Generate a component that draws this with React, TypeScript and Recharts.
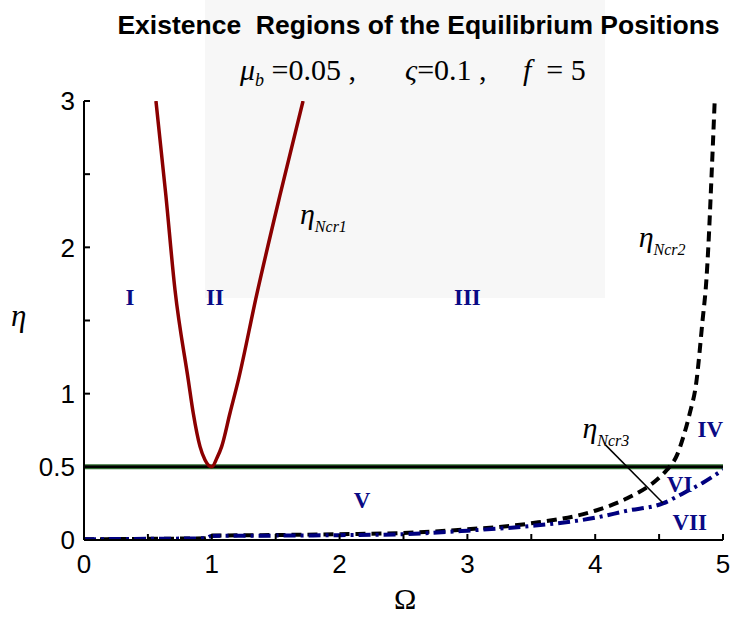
import { LineChart, Line, XAxis, YAxis, ReferenceLine, ReferenceDot } from 'recharts';

// eta_Ncr1 branch (V shaped, minimum at Omega = 1)
const omegaNcr1 = [0.563, 0.64, 0.712, 0.816, 0.855, 0.908, 0.947, 1.0, 1.04, 1.077, 1.142, 1.208, 1.351, 1.534, 1.714];
const etaNcr1 = [3.0, 2.36, 1.709, 1.094, 0.866, 0.638, 0.547, 0.5, 0.56, 0.638, 0.866, 1.094, 1.675, 2.358, 3.0];

// eta_Ncr2 (dashed)
const omegaNcr2 = [0, 0.5, 0.95, 1.0, 1.5, 2.0, 2.5, 3.0, 3.5, 4.0, 4.25, 4.48, 4.56, 4.64, 4.69, 4.74, 4.79, 4.84, 4.87, 4.885, 4.91, 4.935];
const etaNcr2 = [0.005, 0.008, 0.012, 0.03, 0.034, 0.04, 0.048, 0.073, 0.114, 0.2, 0.285, 0.41, 0.478, 0.58, 0.706, 0.866, 1.07, 1.5, 1.777, 2.0, 2.48, 3.0];

// eta_Ncr3 (dash-dot)
const omegaNcr3 = [0, 0.5, 0.95, 1.0, 1.5, 2.0, 2.5, 3.0, 3.5, 4.0, 4.25, 4.53, 4.69, 4.84, 5.0];
const etaNcr3 = [0.005, 0.008, 0.012, 0.028, 0.03, 0.033, 0.04, 0.064, 0.096, 0.152, 0.2, 0.25, 0.32, 0.39, 0.48];

const boundaryEta = 0.5;

const xTicks = [0, 0.5, 1, 1.5, 2, 2.5, 3, 3.5, 4, 4.5, 5];
const yTicks = [0, 0.5, 1, 1.5, 2, 2.5, 3];
const yTickLabels: Record<number, string> = { 0: '0', 0.5: '0.5', 1: '1', 2: '2', 3: '3' };

// region names and where they sit (Omega, eta)
const regionNames = ['I', 'II', 'III', 'IV', 'V', 'VI', 'VII'];
const regionOmega = [0.36, 1.025, 3.0, 4.9, 2.175, 4.66, 4.74];
const regionEta = [1.606, 1.606, 1.606, 0.704, 0.219, 0.328, 0.068];

const curveNames = ['Ncr1', 'Ncr2', 'Ncr3'];
const curveLabelOmega = [1.69, 4.34, 3.9];
const curveLabelEta = [2.16, 2.0, 0.7];

const toPoints = (xs: number[], ys: number[]) => xs.map((x, i) => ({ x, y: ys[i] }));

const ncr1 = toPoints(omegaNcr1, etaNcr1);
const ncr2 = toPoints(omegaNcr2, etaNcr2);
const ncr3 = toPoints(omegaNcr3, etaNcr3);

const serif = '"Liberation Serif", "Times New Roman", serif';
const sans = '"Liberation Sans", Arial, sans-serif';
const navy = '#0a0a85';

const tickStyle = { fontFamily: sans, fontSize: 26, fill: '#000' };

export default function App() {
  return (
    <div style={{ position: 'absolute', left: 0, top: 0, width: 733, height: 617, background: '#fff' }}>
      {/* faint background seal area */}
      <div style={{ position: 'absolute', left: 205, top: 0, width: 400, height: 298, background: '#f7f7f7' }} />
      <div
        style={{
          position: 'absolute', left: 0, width: 733, top: 10, paddingLeft: 104, textAlign: 'center',
          fontFamily: sans, fontWeight: 'bold', fontSize: 26.5, color: '#000', boxSizing: 'border-box',
          whiteSpace: 'nowrap',
        }}
      >
        Existence&nbsp; Regions of the Equilibrium Positions
      </div>
      <div style={{ position: 'absolute', left: 0, top: 0, fontFamily: serif, fontSize: 30, color: '#000' }}>
        <span style={{ position: 'absolute', left: 240, top: 53, whiteSpace: 'nowrap' }}>
          <i>μ</i><sub style={{ fontSize: 18, fontStyle: 'italic', verticalAlign: '-6px' }}>b</sub> =0.05 ,
        </span>
        <span style={{ position: 'absolute', left: 405, top: 53, whiteSpace: 'nowrap' }}>
          <i>ς</i>=0.1 ,
        </span>
        <span style={{ position: 'absolute', left: 523, top: 53, whiteSpace: 'nowrap' }}>
          <i>f</i>&nbsp; =&nbsp;5
        </span>
      </div>
      <div style={{ position: 'absolute', left: 394, top: 582, fontFamily: serif, fontSize: 30 }}>Ω</div>
      <div style={{ position: 'absolute', left: 11, top: 298, fontFamily: serif, fontStyle: 'italic', fontSize: 31 }}>η</div>

      <div style={{ position: 'absolute', left: 0, top: 0 }}>
        <LineChart width={733} height={617} margin={{ top: 101, right: 10, bottom: 0, left: 0 }}>
          <XAxis
            xAxisId="bottom"
            type="number"
            dataKey="x"
            domain={[0, 5]}
            ticks={xTicks}
            allowDataOverflow
            height={77}
            stroke="#000"
            strokeWidth={2}
            tickSize={-6}
            tickMargin={21}
            tick={tickStyle}
            tickFormatter={(v: number) => (Number.isInteger(v) ? String(v) : '')}
          />
          <XAxis
            xAxisId="top"
            orientation="top"
            type="number"
            dataKey="x"
            domain={[0, 5]}
            ticks={xTicks}
            height={0}
            stroke="#000"
            strokeWidth={2}
            tickSize={-6}
            tickFormatter={() => ''}
          />
          <YAxis
            yAxisId="left"
            type="number"
            dataKey="y"
            domain={[0, 3]}
            ticks={yTicks}
            allowDataOverflow
            width={84}
            stroke="#000"
            strokeWidth={2}
            tickSize={-6}
            tickMargin={15}
            tick={tickStyle}
            tickFormatter={(v: number) => yTickLabels[v] ?? ''}
          />
          <YAxis
            yAxisId="right"
            orientation="right"
            type="number"
            domain={[0, 3]}
            ticks={yTicks}
            width={0}
            stroke="#000"
            strokeWidth={2}
            tickSize={-6}
            tickFormatter={() => ''}
          />

          <ReferenceLine xAxisId="bottom" yAxisId="left" y={boundaryEta} stroke="#2f6b2f" strokeWidth={5} />
          <ReferenceLine xAxisId="bottom" yAxisId="left" y={boundaryEta} stroke="#000" strokeWidth={2.5} />

          <Line
            xAxisId="bottom"
            yAxisId="left"
            data={ncr1}
            dataKey="y"
            type="monotone"
            stroke="#8b0000"
            strokeWidth={3.5}
            dot={false}
            isAnimationActive={false}
          />
          <Line
            xAxisId="bottom"
            yAxisId="left"
            data={ncr2}
            dataKey="y"
            type="monotone"
            stroke="#000"
            strokeWidth={4}
            strokeDasharray="10 6"
            dot={false}
            isAnimationActive={false}
          />
          <Line
            xAxisId="bottom"
            yAxisId="left"
            data={ncr3}
            dataKey="y"
            type="monotone"
            stroke="#00007f"
            strokeWidth={4}
            strokeDasharray="12 5 3 5"
            dot={false}
            isAnimationActive={false}
          />

          {/* pointer from the eta_Ncr3 label to its curve */}
          <ReferenceLine
            xAxisId="bottom"
            yAxisId="left"
            segment={[{ x: 4.08, y: 0.65 }, { x: 4.53, y: 0.253 }]}
            stroke="#000"
            strokeWidth={1.5}
          />

          {regionNames.map((name, i) => (
            <ReferenceDot
              key={name}
              xAxisId="bottom"
              yAxisId="left"
              x={regionOmega[i]}
              y={regionEta[i]}
              r={0}
              shape={(p: any) => (
                <text
                  x={p.cx}
                  y={p.cy}
                  textAnchor="middle"
                  fontFamily={serif}
                  fontWeight="bold"
                  fontSize={23}
                  fill={navy}
                >
                  {name}
                </text>
              )}
            />
          ))}

          {curveNames.map((name, i) => (
            <ReferenceDot
              key={name}
              xAxisId="bottom"
              yAxisId="left"
              x={curveLabelOmega[i]}
              y={curveLabelEta[i]}
              r={0}
              shape={(p: any) => (
                <text x={p.cx} y={p.cy} fontFamily={serif} fontStyle="italic" fill="#000">
                  <tspan fontSize={30}>η</tspan>
                  <tspan fontSize={16} dy={8}>{name}</tspan>
                </text>
              )}
            />
          ))}
        </LineChart>
      </div>
    </div>
  );
}
